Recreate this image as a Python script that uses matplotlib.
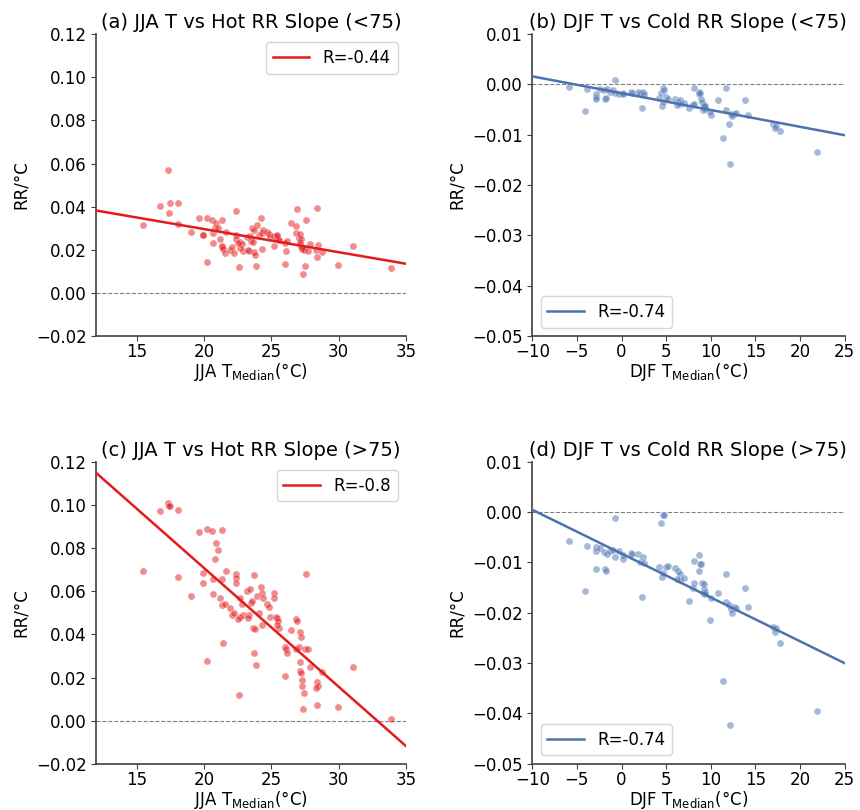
import numpy as np
import matplotlib
matplotlib.use('Agg')
import matplotlib.pyplot as plt

# JJA median temperature and hot RR slope (<75, >75)
jja_t = [15.5, 16.7, 17.35, 17.45, 17.4, 18.05, 18.1, 19.05, 19.65, 19.95,
         19.9, 20.25, 20.25, 20.62, 20.65, 20.7, 20.82, 20.92, 21.07, 21.2,
         21.3, 21.32, 21.35, 21.4, 21.57, 21.64, 21.94, 22.1, 22.24, 22.37,
         22.41, 22.4, 22.59, 22.7, 22.8, 22.9, 22.65, 22.5, 23.2, 23.36,
         23.3, 23.38, 23.5, 23.58, 23.63, 23.68, 23.75, 23.8, 23.88, 23.93,
         24.1, 24.25, 24.3, 24.3, 24.35, 24.7, 24.8, 24.9, 25.17, 25.2,
         25.35, 25.45, 25.5, 25.6, 25.4, 25.99, 26.0, 26.12, 26.2, 26.47,
         26.84, 26.92, 26.84, 27.09, 27.16, 27.2, 27.1, 27.15, 27.2, 27.29,
         27.3, 27.4, 27.33, 27.48, 27.61, 27.76, 27.9, 28.36, 28.41, 28.48,
         28.3, 28.78, 29.93, 31.1, 33.88]
hot_lt75 = [0.0313, 0.0404, 0.0569, 0.0415, 0.0369, 0.0319, 0.0415, 0.0281, 0.0346, 0.0270,
            0.0268, 0.0346, 0.0142, 0.0338, 0.0276, 0.0230, 0.0302, 0.0323, 0.0302, 0.0250,
            0.0213, 0.0337, 0.0220, 0.0205, 0.0187, 0.0282, 0.0199, 0.0215, 0.0184, 0.0267,
            0.0380, 0.0250, 0.0119, 0.0236, 0.0225, 0.0196, 0.0210, 0.0230, 0.0260, 0.0194,
            0.0200, 0.0264, 0.0240, 0.0300, 0.0238, 0.0190, 0.0290, 0.0174, 0.0125, 0.0315,
            0.0270, 0.0346, 0.0276, 0.0202, 0.0290, 0.0283, 0.0275, 0.0260, 0.0218, 0.0265,
            0.0255, 0.0262, 0.0250, 0.0245, 0.0270, 0.0134, 0.0230, 0.0194, 0.0240, 0.0323,
            0.0310, 0.0390, 0.0276, 0.0255, 0.0273, 0.0250, 0.0235, 0.0225, 0.0215, 0.0212,
            0.0205, 0.0200, 0.0088, 0.0124, 0.0338, 0.0194, 0.0227, 0.0392, 0.0165, 0.0222,
            0.0200, 0.0191, 0.0131, 0.0219, 0.0116]
hot_gt75 = [0.0692, 0.0971, 0.1008, 0.0993, 0.0995, 0.0668, 0.0977, 0.0578, 0.0875, 0.0682,
            0.0636, 0.0890, 0.0276, 0.0877, 0.0655, 0.0588, 0.0747, 0.0823, 0.0791, 0.0570,
            0.0535, 0.0883, 0.0655, 0.0360, 0.0540, 0.0694, 0.0520, 0.0490, 0.0500, 0.0680,
            0.0660, 0.0640, 0.0118, 0.0570, 0.0540, 0.0490, 0.0480, 0.0470, 0.0600, 0.0490,
            0.0475, 0.0610, 0.0545, 0.0555, 0.0430, 0.0315, 0.0677, 0.0425, 0.0260, 0.0580,
            0.0500, 0.0620, 0.0590, 0.0443, 0.0570, 0.0540, 0.0525, 0.0480, 0.0590, 0.0570,
            0.0480, 0.0475, 0.0460, 0.0430, 0.0445, 0.0206, 0.0340, 0.0330, 0.0315, 0.0422,
            0.0470, 0.0460, 0.0330, 0.0340, 0.0410, 0.0390, 0.0270, 0.0230, 0.0220, 0.0190,
            0.0160, 0.0130, 0.0052, 0.0330, 0.0681, 0.0330, 0.0250, 0.0180, 0.0072, 0.0160,
            0.0150, 0.0227, 0.0064, 0.0250, 0.0010]

# DJF median temperature and cold RR slope (<75, >75)
djf_t = [-5.93, -4.06, -3.84, -2.9, -2.9, -2.85, -2.46, -2.0, -1.8, -1.7,
         -1.6, -1.3, -1.0, -0.7, -0.78, -0.33, 0.16, 0.2, 1.1, 1.2,
         1.9, 2.1, 2.4, 2.5, 2.3, 4.2, 4.4, 4.6, 4.75, 4.5,
         4.7, 5.0, 5.2, 6.0, 6.3, 6.5, 6.6, 6.2, 7.0, 7.6,
         8.0, 8.1, 8.07, 8.7, 8.7, 8.85, 8.95, 9.0, 9.2, 9.3,
         9.1, 9.4, 9.35, 10.06, 9.97, 10.8, 11.42, 11.7, 11.7, 12.05,
         12.2, 12.3, 12.6, 12.4, 12.8, 13.8, 14.2, 17.0, 17.3, 17.2,
         17.8, 21.96]
cold_lt75 = [-0.0005, -0.0053, -0.0010, -0.0020, -0.0025, -0.0030, -0.0010, -0.0012, -0.0029, -0.0027,
             -0.0010, -0.0015, -0.0012, 0.0009, -0.0018, -0.0019, -0.0017, -0.0020, -0.0016, -0.0018,
             -0.0015, -0.0017, -0.0015, -0.0020, -0.0047, -0.0028, -0.0018, -0.0008, -0.0012, -0.0043,
             -0.0035, -0.0026, -0.0030, -0.0030, -0.0035, -0.0032, -0.0038, -0.0040, -0.0036, -0.0047,
             -0.0040, -0.0038, -0.0008, -0.0015, -0.0020, -0.0018, -0.0030, -0.0035, -0.0045, -0.0040,
             -0.0050, -0.0048, -0.0043, -0.0060, -0.0055, -0.0032, -0.0107, -0.0007, -0.0051, -0.0079,
             -0.0158, -0.0059, -0.0058, -0.0062, -0.0057, -0.0032, -0.0060, -0.0079, -0.0082, -0.0087,
             -0.0093, -0.0135]
cold_gt75 = [-0.0057, -0.0157, -0.0068, -0.0070, -0.0078, -0.0114, -0.0072, -0.0080, -0.0113, -0.0117,
             -0.0083, -0.0078, -0.0075, -0.0011, -0.0089, -0.0077, -0.0085, -0.0094, -0.0081, -0.0083,
             -0.0083, -0.0100, -0.0090, -0.0102, -0.0168, -0.0110, -0.0022, -0.0005, -0.0006, -0.0128,
             -0.0122, -0.0110, -0.0108, -0.0112, -0.0118, -0.0124, -0.0135, -0.0132, -0.0130, -0.0176,
             -0.0150, -0.0141, -0.0097, -0.0086, -0.0117, -0.0104, -0.0103, -0.0140, -0.0143, -0.0152,
             -0.0160, -0.0158, -0.0163, -0.0171, -0.0214, -0.0161, -0.0336, -0.0123, -0.0178, -0.0185,
             -0.0422, -0.0192, -0.0188, -0.0201, -0.0190, -0.0150, -0.0188, -0.0228, -0.0230, -0.0238,
             -0.0260, -0.0395]

titles = ['(a) JJA T vs Hot RR Slope (<75)', '(b) DJF T vs Cold RR Slope (<75)',
          '(c) JJA T vs Hot RR Slope (>75)', '(d) DJF T vs Cold RR Slope (>75)']
r_labels = ['R=-0.44', 'R=-0.74', 'R=-0.8', 'R=-0.74']

red = '#e41a1c'
blue = '#4c72b0'

fig = plt.figure(figsize=(8.6, 8.1), dpi=100)

# axes boxes in figure coords
boxes = [[0.112, 0.585, 0.360, 0.373],
         [0.619, 0.585, 0.363, 0.373],
         [0.112, 0.057, 0.360, 0.373],
         [0.619, 0.057, 0.363, 0.373]]

panels = [(jja_t, hot_lt75, red, 'upper right'),
          (djf_t, cold_lt75, blue, 'lower left'),
          (jja_t, hot_gt75, red, 'upper right'),
          (djf_t, cold_gt75, blue, 'lower left')]

for i, (xs, ys, col, loc) in enumerate(panels):
    ax = fig.add_axes(boxes[i])
    xs = np.array(xs)
    ys = np.array(ys)
    ax.scatter(xs, ys, s=26, color=col, alpha=0.5, edgecolors='white', linewidths=0.4, zorder=3)

    if i % 2 == 0:
        xlim = (12, 35)
        ax.set_ylim(-0.02, 0.12)
        ax.set_yticks(np.arange(-0.02, 0.121, 0.02))
        ax.set_xticks([15, 20, 25, 30, 35])
        ax.set_xlabel('JJA T$_{\\mathrm{Median}}$(°C)', fontsize=12, labelpad=0)
    else:
        xlim = (-10, 25)
        ax.set_ylim(-0.05, 0.01)
        ax.set_yticks(np.arange(-0.05, 0.011, 0.01))
        ax.set_xticks([-10, -5, 0, 5, 10, 15, 20, 25])
        ax.set_xlabel('DJF T$_{\\mathrm{Median}}$(°C)', fontsize=12, labelpad=0)
    ax.set_xlim(xlim)

    # linear fit drawn across the full x range
    k, b0 = np.polyfit(xs, ys, 1)
    xx = np.array(xlim)
    ax.plot(xx, k * xx + b0, color=col, lw=1.8, label=r_labels[i], zorder=4)

    ax.axhline(0, color='gray', ls='--', lw=0.8, zorder=1)
    ax.set_ylabel('RR/°C', fontsize=12)
    ax.set_title(titles[i], fontsize=14, pad=4)
    ax.tick_params(labelsize=12, color='0.25')
    ax.tick_params(axis='x', pad=1.5)
    for sp in ['top', 'right']:
        ax.spines[sp].set_visible(False)
    for sp in ['left', 'bottom']:
        ax.spines[sp].set_color('0.25')
        ax.spines[sp].set_linewidth(1.2)
    ax.legend(loc=loc, fontsize=12, handlelength=2.2)

fig.savefig('out.png', dpi=100)
